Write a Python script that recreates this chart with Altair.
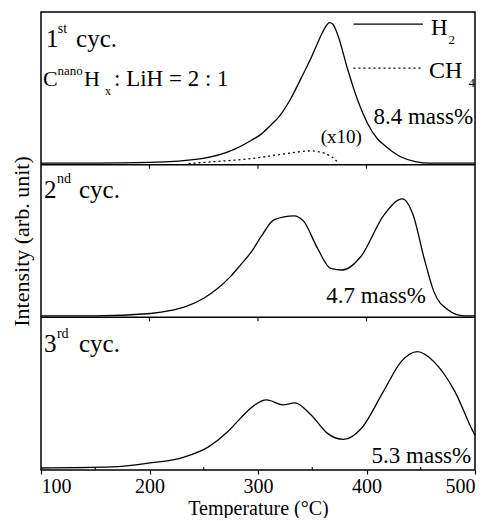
import altair as alt
import pandas as pd

# ---- data (each panel: 0 = panel floor, 1 = panel top) ----
T_c1 = [100, 150, 200, 248, 278, 294, 303, 312, 320, 330, 340, 349, 357, 362, 366, 369, 374, 382, 392, 401, 410, 416, 425, 432, 445, 459, 500]
H2_c1 = [0.01, 0.01, 0.015, 0.04, 0.10, 0.16, 0.20, 0.26, 0.32, 0.43, 0.57, 0.70, 0.83, 0.90, 0.93, 0.92, 0.84, 0.64, 0.42, 0.27, 0.17, 0.13, 0.08, 0.05, 0.02, 0.01, 0.01]

T_ch4 = [236, 260, 294, 324, 349, 361, 368, 375]
CH4_c1 = [0.007, 0.02, 0.04, 0.07, 0.09, 0.075, 0.05, 0.007]

T_c2 = [100, 150, 201, 220, 235, 250, 263, 275, 284, 294, 303, 315, 333, 342, 355, 367, 378, 395, 416, 433, 443, 453, 462, 475, 490, 500]
H2_c2 = [0.01, 0.01, 0.025, 0.045, 0.075, 0.125, 0.19, 0.27, 0.344, 0.43, 0.53, 0.64, 0.665, 0.63, 0.45, 0.32, 0.31, 0.40, 0.67, 0.776, 0.67, 0.39, 0.17, 0.05, 0.01, 0.01]

T_c3 = [100, 165, 199, 232, 254, 272, 284, 294, 308, 323, 334, 349, 364, 379, 395, 416, 432, 447, 462, 481, 499, 500]
H2_c3 = [0.013, 0.02, 0.045, 0.085, 0.15, 0.25, 0.34, 0.41, 0.459, 0.427, 0.44, 0.36, 0.24, 0.20, 0.27, 0.52, 0.71, 0.775, 0.71, 0.52, 0.24, 0.227]

panel_offsets = [2, 1, 0]          # cycle 1 on top, cycle 3 at bottom
x_ticks = [100, 200, 300, 400, 500]
inner_ticks = [200, 300, 400]
minor_ticks = [150, 250, 350, 450]

FONT = "Liberation Serif"
W = 434
H = 458
UNIT = H / 3.0

xscale = alt.Scale(domain=[100, 500], nice=False, zero=False)
yscale = alt.Scale(domain=[0, 3], nice=False, zero=False)

XAX = alt.Axis(
    values=x_ticks, tickSize=4, tickColor="black", tickWidth=1.2, domain=False, grid=False,
    labelFont=FONT, labelFontSize=20, labelColor="black", labelPadding=2,
    title="Temperature (°C)", titleFont=FONT, titleFontSize=20, titleFontWeight="normal",
    titleColor="black", titlePadding=2,
)
YAX = alt.Axis(
    title="Intensity (arb. unit)", labels=False, ticks=False, domain=False, grid=False,
    titleFont=FONT, titleFontSize=22, titleFontWeight="normal", titleColor="black",
    titlePadding=8,
)

X = lambda f="T:Q": alt.X(f, scale=xscale, axis=XAX)
Y = lambda f="v:Q": alt.Y(f, scale=yscale, axis=YAX)


def curve(T, V, off, dash=None):
    df = pd.DataFrame({"T": T, "v": [off + v for v in V]})
    kw = dict(color="black", strokeWidth=1.3, interpolate="monotone")
    if dash:
        kw["strokeDash"] = dash
    return alt.Chart(df).mark_line(**kw).encode(x=X(), y=Y())


def label(text, x, y, size, align="left"):
    df = pd.DataFrame({"T": [x], "v": [y], "s": [text]})
    return alt.Chart(df).mark_text(
        font=FONT, fontSize=size, align=align, baseline="alphabetic", color="black"
    ).encode(x=X(), y=Y(), text="s:N")


def seg(T, v, dash=None):
    df = pd.DataFrame({"T": T, "v": [v, v]})
    kw = dict(color="black", strokeWidth=1.2)
    if dash:
        kw["strokeDash"] = dash
    return alt.Chart(df).mark_line(**kw).encode(x=X(), y=Y())


# panel separators
sep_df = pd.DataFrame({"v": [1, 2]})
separators = alt.Chart(sep_df).mark_rule(color="black", strokeWidth=1.5).encode(y=Y())

# small ticks hanging down from each separator, minor ticks on the floor
tick_rows = [{"T": t, "v": b, "v2": b - 4 / UNIT} for b in [1, 2] for t in inner_ticks]
tick_rows += [{"T": t, "v": 0, "v2": 3 / UNIT} for t in minor_ticks]
ticks = alt.Chart(pd.DataFrame(tick_rows)).mark_rule(color="black", strokeWidth=1.1).encode(
    x=X(), y=Y(), y2="v2:Q"
)

layers = [
    separators,
    ticks,
    curve(T_c1, H2_c1, panel_offsets[0]),
    curve(T_ch4, CH4_c1, panel_offsets[0], dash=[2, 3]),
    curve(T_c2, H2_c2, panel_offsets[1]),
    curve(T_c3, H2_c3, panel_offsets[2]),
    seg([388, 452], 2.921),
    seg([388, 452], 2.633, dash=[2, 3]),
    # panel 1 texts
    label("1", 104.6, 2.771, 25),
    label("st", 115.5, 2.862, 14),
    label("cyc.", 132.3, 2.771, 25),
    label("C", 101.8, 2.515, 22),
    label("nano", 115.3, 2.587, 13),
    label("H", 139.6, 2.515, 22),
    label("x", 159.0, 2.456, 12),
    label(": LiH = 2 : 1", 167.3, 2.515, 23),
    label("H", 459.4, 2.849, 23),
    label("2", 475.5, 2.790, 13),
    label("CH", 457.6, 2.568, 24),
    label("4", 494.0, 2.509, 13),
    label("8.4 mass%", 498.3, 2.266, 23, align="right"),
    label("(x10)", 376.7, 2.142, 19, align="center"),
    # panel 2 texts
    label("2", 102.8, 1.782, 25),
    label("nd", 114.7, 1.880, 14),
    label("cyc.", 135.0, 1.782, 25),
    label("4.7 mass%", 454.8, 1.094, 23, align="right"),
    # panel 3 texts
    label("3", 102.8, 0.773, 25),
    label("rd", 114.7, 0.865, 14),
    label("cyc.", 135.0, 0.773, 25),
    label("5.3 mass%", 496.5, 0.046, 23, align="right"),
]

chart = alt.layer(*layers).properties(
    width=W, height=H,
    padding={"left": 2, "top": 4, "right": 0, "bottom": 0},
).configure_view(stroke="black", strokeWidth=1.5)

chart.save("out.html", embed_options={"renderer": "svg", "actions": False})
